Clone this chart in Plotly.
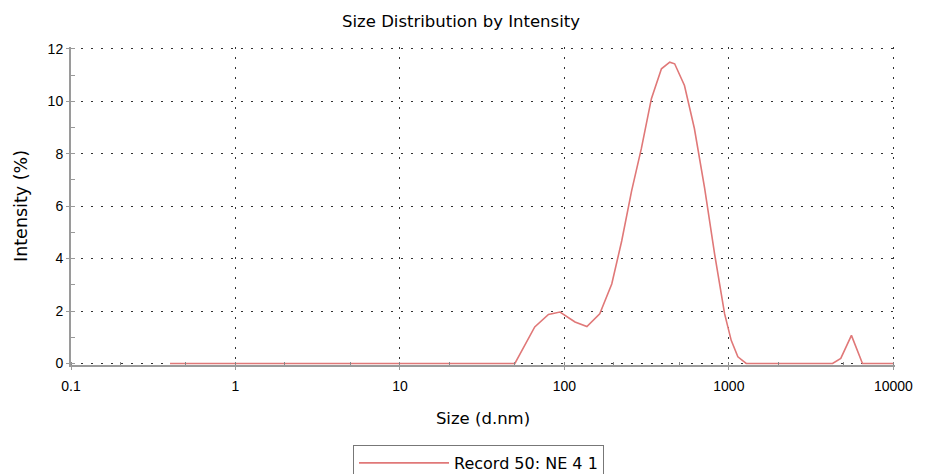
import plotly.graph_objects as go

# Size (d.nm) and intensity (%)
sizes = [0.4, 50, 66, 80, 94, 116, 137, 164, 194, 223, 256, 294, 338, 389, 437, 468,
         537, 617, 712, 819, 942, 1033, 1134, 1274, 4270, 4790, 5560, 6490, 10000]
intensity = [0, 0, 1.39, 1.87, 1.96, 1.58, 1.41, 1.89, 3.03, 4.67, 6.57, 8.21, 10.1, 11.24, 11.49, 11.43,
             10.6, 8.96, 6.69, 4.17, 1.89, 0.88, 0.25, 0, 0, 0.19, 1.07, 0, 0]

x_ticks = [0.1, 1, 10, 100, 1000, 10000]
x_labels = ["0.1", "1", "10", "100", "1000", "10000"]
y_ticks = [0, 2, 4, 6, 8, 10, 12]

FONT = "Liberation Sans, Arial, sans-serif"
TFONT = "DejaVu Sans, sans-serif"

fig = go.Figure()
fig.add_trace(go.Scatter(
    x=sizes, y=intensity, mode="lines",
    line=dict(color="#e07878", width=1.6),
    name="Record 50: NE 4 1",
))

grid = dict(showgrid=True, gridcolor="#333333", gridwidth=1.3, griddash="2px,8px")

fig.update_layout(
    width=936, height=474,
    paper_bgcolor="white", plot_bgcolor="white",
    margin=dict(l=71, r=41, t=47, b=109),
    font=dict(family=FONT, color="#000000", size=14),
    title=dict(text="Size Distribution by Intensity", x=461 / 936, xref="container", xanchor="center",
               y=1 - 21 / 474, yref="container", yanchor="middle",
               font=dict(size=16.5, family=TFONT)),
    showlegend=True,
    legend=dict(orientation="h", xref="container", x=353 / 936, xanchor="left",
                yref="container", y=1 - 445 / 474, yanchor="top",
                bordercolor="#777777", borderwidth=1, font=dict(size=16, family=TFONT),
                itemwidth=90, bgcolor="white"),
    xaxis=dict(type="log", range=[-1, 4.01], tickvals=x_ticks, ticktext=x_labels,
               showline=True, linecolor="#9a9a9a", linewidth=2,
               ticks="outside", ticklen=3, tickcolor="#9a9a9a", ticklabelstandoff=4,
               minor=dict(ticks="inside", ticklen=3, tickcolor="#888888", showgrid=False),
               zeroline=False,
               title=dict(text="Size (d.nm)", font=dict(size=16.5, family=TFONT), standoff=20),
               **grid),
    yaxis=dict(range=[-0.06, 12.07], tickvals=y_ticks,
               showline=True, linecolor="#9a9a9a", linewidth=2,
               ticks="outside", ticklen=3, tickcolor="#9a9a9a",
               minor=dict(dtick=1, ticks="inside", ticklen=4, tickcolor="#999999", showgrid=False),
               zeroline=False,
               title=dict(text="Intensity (%)", font=dict(size=17.5, family=TFONT), standoff=15),
               **grid),
)

fig.write_html("out.html")
